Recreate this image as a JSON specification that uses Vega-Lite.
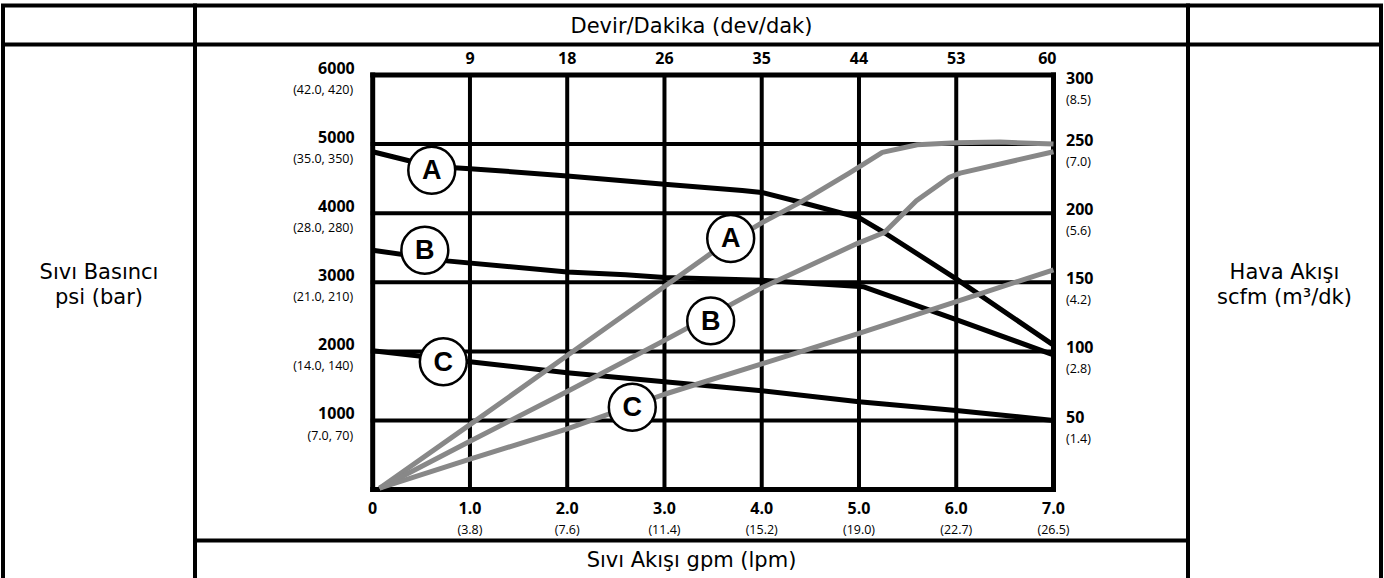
{
  "$schema": "https://vega.github.io/schema/vega-lite/v6.json",
  "padding": {"left": 1, "top": 3.5, "right": 0, "bottom": 0},
  "background": "white",
  "spacing": 0,
  "bounds": "flush",
  "config": {
    "view": {"stroke": "black", "strokeWidth": 4},
    "text": {"font": "Open Sans", "baseline": "middle", "color": "black"},
    "axis": {"domainColor": "black", "domainWidth": 4, "ticks": false, "labels": false, "grid": false, "title": null}
  },
  "datasets": {
    "cell": [{"t": ""}],
    "xticks": [
      {"gpm": 0, "label": "0", "lpm": "", "rpm": ""},
      {"gpm": 1, "label": "1.0", "lpm": "(3.8)", "rpm": "9"},
      {"gpm": 2, "label": "2.0", "lpm": "(7.6)", "rpm": "18"},
      {"gpm": 3, "label": "3.0", "lpm": "(11.4)", "rpm": "26"},
      {"gpm": 4, "label": "4.0", "lpm": "(15.2)", "rpm": "35"},
      {"gpm": 5, "label": "5.0", "lpm": "(19.0)", "rpm": "44"},
      {"gpm": 6, "label": "6.0", "lpm": "(22.7)", "rpm": "53"},
      {"gpm": 7, "label": "7.0", "lpm": "(26.5)", "rpm": "60"}
    ],
    "yticks": [
      {"psi": 0, "label": "", "bar": ""},
      {"psi": 1000, "label": "1000", "bar": "(7.0, 70)"},
      {"psi": 2000, "label": "2000", "bar": "(14.0, 140)"},
      {"psi": 3000, "label": "3000", "bar": "(21.0, 210)"},
      {"psi": 4000, "label": "4000", "bar": "(28.0, 280)"},
      {"psi": 5000, "label": "5000", "bar": "(35.0, 350)"},
      {"psi": 6000, "label": "6000", "bar": "(42.0, 420)"}
    ],
    "airticks": [
      {"scfm": 50, "label": "50", "m3": "(1.4)"},
      {"scfm": 100, "label": "100", "m3": "(2.8)"},
      {"scfm": 150, "label": "150", "m3": "(4.2)"},
      {"scfm": 200, "label": "200", "m3": "(5.6)"},
      {"scfm": 250, "label": "250", "m3": "(7.0)"},
      {"scfm": 300, "label": "300", "m3": "(8.5)"}
    ],
    "pressure": [
      {"curve": "A", "gpm": 0, "psi": 4890},
      {"curve": "A", "gpm": 0.6, "psi": 4680},
      {"curve": "A", "gpm": 1, "psi": 4645},
      {"curve": "A", "gpm": 2, "psi": 4540},
      {"curve": "A", "gpm": 3, "psi": 4420},
      {"curve": "A", "gpm": 3.8, "psi": 4330},
      {"curve": "A", "gpm": 4, "psi": 4300},
      {"curve": "A", "gpm": 4.45, "psi": 4140},
      {"curve": "A", "gpm": 5, "psi": 3935},
      {"curve": "A", "gpm": 5.27, "psi": 3710},
      {"curve": "A", "gpm": 6, "psi": 3050},
      {"curve": "A", "gpm": 7, "psi": 2090},
      {"curve": "B", "gpm": 0, "psi": 3465},
      {"curve": "B", "gpm": 0.76, "psi": 3310},
      {"curve": "B", "gpm": 2, "psi": 3150},
      {"curve": "B", "gpm": 2.6, "psi": 3110},
      {"curve": "B", "gpm": 3, "psi": 3070},
      {"curve": "B", "gpm": 4, "psi": 3030},
      {"curve": "B", "gpm": 5.05, "psi": 2935},
      {"curve": "B", "gpm": 6, "psi": 2460},
      {"curve": "B", "gpm": 7, "psi": 1950},
      {"curve": "C", "gpm": 0, "psi": 2010},
      {"curve": "C", "gpm": 1, "psi": 1850},
      {"curve": "C", "gpm": 2, "psi": 1690},
      {"curve": "C", "gpm": 3, "psi": 1560},
      {"curve": "C", "gpm": 4, "psi": 1430},
      {"curve": "C", "gpm": 5, "psi": 1270},
      {"curve": "C", "gpm": 6, "psi": 1145},
      {"curve": "C", "gpm": 7, "psi": 1000}
    ],
    "air": [
      {"curve": "A", "gpm": 0.07, "scfm": 1},
      {"curve": "A", "gpm": 1, "scfm": 47},
      {"curve": "A", "gpm": 2, "scfm": 97},
      {"curve": "A", "gpm": 3, "scfm": 147},
      {"curve": "A", "gpm": 3.5, "scfm": 172},
      {"curve": "A", "gpm": 4, "scfm": 193},
      {"curve": "A", "gpm": 4.4, "scfm": 208},
      {"curve": "A", "gpm": 4.9, "scfm": 229},
      {"curve": "A", "gpm": 5.24, "scfm": 244},
      {"curve": "A", "gpm": 5.6, "scfm": 249.5},
      {"curve": "A", "gpm": 6, "scfm": 251},
      {"curve": "A", "gpm": 6.45, "scfm": 251.5},
      {"curve": "A", "gpm": 7, "scfm": 250},
      {"curve": "B", "gpm": 0.07, "scfm": 1},
      {"curve": "B", "gpm": 1, "scfm": 35},
      {"curve": "B", "gpm": 2, "scfm": 71},
      {"curve": "B", "gpm": 3, "scfm": 108},
      {"curve": "B", "gpm": 4, "scfm": 146},
      {"curve": "B", "gpm": 4.98, "scfm": 178},
      {"curve": "B", "gpm": 5.26, "scfm": 186},
      {"curve": "B", "gpm": 5.59, "scfm": 209},
      {"curve": "B", "gpm": 5.93, "scfm": 226},
      {"curve": "B", "gpm": 6.04, "scfm": 229},
      {"curve": "B", "gpm": 7, "scfm": 244.5},
      {"curve": "C", "gpm": 0.07, "scfm": 1},
      {"curve": "C", "gpm": 1, "scfm": 22},
      {"curve": "C", "gpm": 2, "scfm": 44},
      {"curve": "C", "gpm": 3, "scfm": 69},
      {"curve": "C", "gpm": 4, "scfm": 91},
      {"curve": "C", "gpm": 5, "scfm": 113},
      {"curve": "C", "gpm": 6, "scfm": 136},
      {"curve": "C", "gpm": 7, "scfm": 159}
    ],
    "tags": [
      {"letter": "A", "gpm": 0.607, "psi": 4621},
      {"letter": "B", "gpm": 0.536, "psi": 3464},
      {"letter": "C", "gpm": 0.726, "psi": 1850},
      {"letter": "A", "gpm": 3.681, "psi": 3634},
      {"letter": "B", "gpm": 3.475, "psi": 2442},
      {"letter": "C", "gpm": 2.669, "psi": 1191}
    ]
  },
  "hconcat": [
    {
      "width": 192, "height": 578.5, "data": {"name": "cell"}, "view": {"stroke": "black", "strokeWidth": 4},
      "mark": {"type": "text", "text": ["Sıvı Basıncı", "psi (bar)"], "font": "DejaVu Sans", "fontSize": 21, "lineHeight": 25, "align": "center", "dy": -22.25},
      "encoding": {"x": {"datum": 0.5, "type": "quantitative", "scale": {"domain": [0, 1]}, "axis": {"orient": "top", "offset": -38.5}}}
    },
    {
      "width": 993,
      "height": 578.5,
      "view": {"stroke": "black", "strokeWidth": 4},
      "resolve": {"scale": {"x": "independent", "y": "independent"}},
      "layer": [
        {
          "data": {"name": "cell"},
          "mark": {"type": "text", "text": "Devir/Dakika (dev/dak)", "font": "DejaVu Sans", "fontSize": 21, "align": "center", "dy": -267.5},
          "encoding": {"x": {"datum": 0.5, "type": "quantitative", "scale": {"domain": [0, 1]}, "axis": {"orient": "top", "offset": -38.5}}}
        },
        {
          "data": {"name": "cell"},
          "mark": {"type": "text", "text": "Sıvı Akışı gpm (lpm)", "font": "DejaVu Sans", "fontSize": 21, "align": "center", "dy": 265.75},
          "encoding": {"x": {"datum": 0.5, "type": "quantitative", "scale": {"domain": [0, 1]}, "axis": {"orient": "bottom", "offset": -44}}}
        },
        {
          "data": {"name": "xticks"},
          "mark": {"type": "rule", "strokeCap": "square", "color": "black"},
          "encoding": {
            "x": {"field": "gpm", "type": "quantitative", "scale": {"domain": [0, 7], "range": [177.7, 858.5], "nice": false, "zero": false}, "axis": null},
            "y": {"datum": 0, "type": "quantitative", "scale": {"domain": [0, 6000], "range": [484.1, 69.5], "nice": false, "zero": false}, "axis": null},
            "y2": {"datum": 6000},
            "strokeWidth": {"condition": {"test": "datum.gpm == 0 || datum.gpm == 7", "value": 5}, "value": 4}
          }
        },
        {
          "data": {"name": "yticks"},
          "mark": {"type": "rule", "strokeCap": "square", "color": "black"},
          "encoding": {
            "y": {"field": "psi", "type": "quantitative", "scale": {"domain": [0, 6000], "range": [484.1, 69.5], "nice": false, "zero": false}, "axis": null},
            "x": {"datum": 0, "type": "quantitative", "scale": {"domain": [0, 7], "range": [177.7, 858.5], "nice": false, "zero": false}, "axis": null},
            "x2": {"datum": 7},
            "strokeWidth": {"condition": {"test": "datum.psi == 0 || datum.psi == 6000", "value": 5}, "value": 4}
          }
        },
        {
          "data": {"name": "pressure"},
          "mark": {"type": "line", "color": "black", "strokeWidth": 5, "strokeJoin": "round"},
          "encoding": {
            "x": {"field": "gpm", "type": "quantitative", "scale": {"domain": [0, 7], "range": [177.7, 858.5], "nice": false, "zero": false}, "axis": null},
            "y": {"field": "psi", "type": "quantitative", "scale": {"domain": [0, 6000], "range": [484.1, 69.5], "nice": false, "zero": false}, "axis": null},
            "detail": {"field": "curve"}
          }
        },
        {
          "data": {"name": "air"},
          "mark": {"type": "line", "color": "#888888", "strokeWidth": 5, "strokeJoin": "round"},
          "encoding": {
            "x": {"field": "gpm", "type": "quantitative", "scale": {"domain": [0, 7], "range": [177.7, 858.5], "nice": false, "zero": false}, "axis": null},
            "y": {"field": "scfm", "type": "quantitative", "scale": {"domain": [0, 300], "range": [484.1, 69.5], "nice": false, "zero": false}, "axis": null},
            "detail": {"field": "curve"}
          }
        },
        {
          "data": {"name": "tags"},
          "mark": {"type": "point", "shape": "circle", "filled": true, "fill": "white", "stroke": "black", "strokeWidth": 2.5, "size": 2200, "opacity": 1},
          "encoding": {
            "x": {"field": "gpm", "type": "quantitative", "scale": {"domain": [0, 7], "range": [177.7, 858.5], "nice": false, "zero": false}, "axis": null},
            "y": {"field": "psi", "type": "quantitative", "scale": {"domain": [0, 6000], "range": [484.1, 69.5], "nice": false, "zero": false}, "axis": null}
          }
        },
        {
          "data": {"name": "tags"},
          "mark": {"type": "text", "font": "Liberation Sans", "fontWeight": "bold", "fontSize": 27, "align": "center", "dy": 1},
          "encoding": {
            "x": {"field": "gpm", "type": "quantitative", "scale": {"domain": [0, 7], "range": [177.7, 858.5], "nice": false, "zero": false}, "axis": null},
            "y": {"field": "psi", "type": "quantitative", "scale": {"domain": [0, 6000], "range": [484.1, 69.5], "nice": false, "zero": false}, "axis": null},
            "text": {"field": "letter"}
          }
        },
        {
          "data": {"name": "xticks"},
          "transform": [{"filter": "datum.gpm > 0 && datum.gpm < 7"}],
          "mark": {"type": "text", "fontWeight": "bold", "fontSize": 16, "align": "center", "dy": -16},
          "encoding": {
            "x": {"field": "gpm", "type": "quantitative", "scale": {"domain": [0, 7], "range": [177.7, 858.5], "nice": false, "zero": false}, "axis": null},
            "y": {"datum": 6000, "type": "quantitative", "scale": {"domain": [0, 6000], "range": [484.1, 69.5], "nice": false, "zero": false}, "axis": null},
            "text": {"field": "rpm"}
          }
        },
        {
          "data": {"name": "xticks"},
          "transform": [{"filter": "datum.gpm == 7"}],
          "mark": {"type": "text", "fontWeight": "bold", "fontSize": 16, "align": "right", "dx": 3, "dy": -16},
          "encoding": {
            "x": {"field": "gpm", "type": "quantitative", "scale": {"domain": [0, 7], "range": [177.7, 858.5], "nice": false, "zero": false}, "axis": null},
            "y": {"datum": 6000, "type": "quantitative", "scale": {"domain": [0, 6000], "range": [484.1, 69.5], "nice": false, "zero": false}, "axis": null},
            "text": {"field": "rpm"}
          }
        },
        {
          "data": {"name": "xticks"},
          "mark": {"type": "text", "fontWeight": "bold", "fontSize": 16, "align": "center", "dy": 19},
          "encoding": {
            "x": {"field": "gpm", "type": "quantitative", "scale": {"domain": [0, 7], "range": [177.7, 858.5], "nice": false, "zero": false}, "axis": null},
            "y": {"datum": 0, "type": "quantitative", "scale": {"domain": [0, 6000], "range": [484.1, 69.5], "nice": false, "zero": false}, "axis": null},
            "text": {"field": "label"}
          }
        },
        {
          "data": {"name": "xticks"},
          "mark": {"type": "text", "fontSize": 12.5, "align": "center", "dy": 40},
          "encoding": {
            "x": {"field": "gpm", "type": "quantitative", "scale": {"domain": [0, 7], "range": [177.7, 858.5], "nice": false, "zero": false}, "axis": null},
            "y": {"datum": 0, "type": "quantitative", "scale": {"domain": [0, 6000], "range": [484.1, 69.5], "nice": false, "zero": false}, "axis": null},
            "text": {"field": "lpm"}
          }
        },
        {
          "data": {"name": "yticks"},
          "transform": [{"filter": "datum.psi > 0"}],
          "mark": {"type": "text", "fontWeight": "bold", "fontSize": 16, "align": "right", "dx": -18, "dy": -6.5},
          "encoding": {
            "y": {"field": "psi", "type": "quantitative", "scale": {"domain": [0, 6000], "range": [484.1, 69.5], "nice": false, "zero": false}, "axis": null},
            "x": {"datum": 0, "type": "quantitative", "scale": {"domain": [0, 7], "range": [177.7, 858.5], "nice": false, "zero": false}, "axis": null},
            "text": {"field": "label"}
          }
        },
        {
          "data": {"name": "yticks"},
          "transform": [{"filter": "datum.psi > 0"}],
          "mark": {"type": "text", "fontSize": 12.5, "align": "right", "dx": -19.5, "dy": 15},
          "encoding": {
            "y": {"field": "psi", "type": "quantitative", "scale": {"domain": [0, 6000], "range": [484.1, 69.5], "nice": false, "zero": false}, "axis": null},
            "x": {"datum": 0, "type": "quantitative", "scale": {"domain": [0, 7], "range": [177.7, 858.5], "nice": false, "zero": false}, "axis": null},
            "text": {"field": "bar"}
          }
        },
        {
          "data": {"name": "airticks"},
          "transform": [{"filter": "datum.scfm < 300"}],
          "mark": {"type": "text", "fontWeight": "bold", "fontSize": 16, "align": "left", "dx": 12.5, "dy": -3},
          "encoding": {
            "y": {"field": "scfm", "type": "quantitative", "scale": {"domain": [0, 300], "range": [484.1, 69.5], "nice": false, "zero": false}, "axis": null},
            "x": {"datum": 7, "type": "quantitative", "scale": {"domain": [0, 7], "range": [177.7, 858.5], "nice": false, "zero": false}, "axis": null},
            "text": {"field": "label"}
          }
        },
        {
          "data": {"name": "airticks"},
          "transform": [{"filter": "datum.scfm < 300"}],
          "mark": {"type": "text", "fontSize": 12.5, "align": "left", "dx": 12.5, "dy": 18},
          "encoding": {
            "y": {"field": "scfm", "type": "quantitative", "scale": {"domain": [0, 300], "range": [484.1, 69.5], "nice": false, "zero": false}, "axis": null},
            "x": {"datum": 7, "type": "quantitative", "scale": {"domain": [0, 7], "range": [177.7, 858.5], "nice": false, "zero": false}, "axis": null},
            "text": {"field": "m3"}
          }
        },
        {
          "data": {"name": "airticks"},
          "transform": [{"filter": "datum.scfm == 300"}],
          "mark": {"type": "text", "fontWeight": "bold", "fontSize": 16, "align": "left", "dx": 12.5, "dy": 4},
          "encoding": {
            "y": {"field": "scfm", "type": "quantitative", "scale": {"domain": [0, 300], "range": [484.1, 69.5], "nice": false, "zero": false}, "axis": null},
            "x": {"datum": 7, "type": "quantitative", "scale": {"domain": [0, 7], "range": [177.7, 858.5], "nice": false, "zero": false}, "axis": null},
            "text": {"field": "label"}
          }
        },
        {
          "data": {"name": "airticks"},
          "transform": [{"filter": "datum.scfm == 300"}],
          "mark": {"type": "text", "fontSize": 12.5, "align": "left", "dx": 12.5, "dy": 25},
          "encoding": {
            "y": {"field": "scfm", "type": "quantitative", "scale": {"domain": [0, 300], "range": [484.1, 69.5], "nice": false, "zero": false}, "axis": null},
            "x": {"datum": 7, "type": "quantitative", "scale": {"domain": [0, 7], "range": [177.7, 858.5], "nice": false, "zero": false}, "axis": null},
            "text": {"field": "m3"}
          }
        }
      ]
    },
    {
      "width": 193, "height": 578.5, "data": {"name": "cell"}, "view": {"stroke": "black", "strokeWidth": 4},
      "mark": {"type": "text", "text": ["Hava Akışı", "scfm (m³/dk)"], "font": "DejaVu Sans", "fontSize": 21, "lineHeight": 25, "align": "center", "dy": -22.25},
      "encoding": {"x": {"datum": 0.5, "type": "quantitative", "scale": {"domain": [0, 1]}, "axis": {"orient": "top", "offset": -38.5}}}
    }
  ]
}
